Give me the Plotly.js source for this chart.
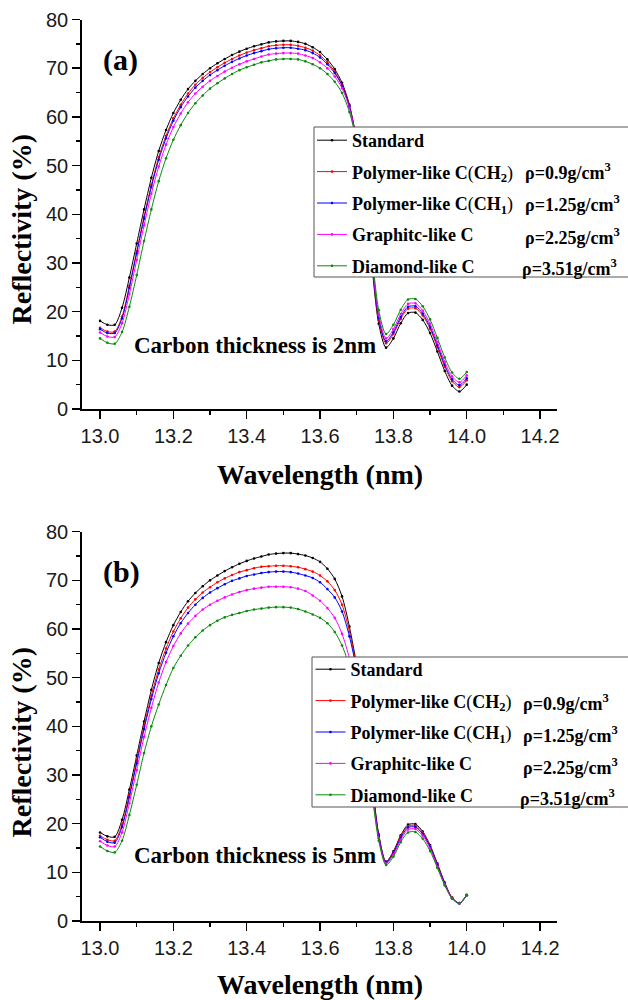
<!DOCTYPE html>
<html><head><meta charset="utf-8">
<script src="https://cdn.plot.ly/plotly-3.0.1.min.js"></script>
<style>html,body{margin:0;padding:0;background:#fff}</style>
</head><body><div id="chart" style="width:628px;height:1000px"></div>
<script>
// ---- data ----
const wavelength = [13.00,13.02,13.04,13.06,13.08,13.10,13.12,13.14,13.16,13.18,13.20,13.22,13.24,13.26,13.28,13.30,13.32,13.34,13.36,13.38,13.40,13.42,13.44,13.46,13.48,13.50,13.52,13.54,13.56,13.58,13.60,13.62,13.64,13.66,13.68,13.70,13.72,13.74,13.76,13.78,13.80,13.82,13.84,13.86,13.88,13.90,13.92,13.94,13.96,13.98,14.00];

// panel (a): carbon thickness 2 nm
const standardA = [18.1,17.3,17.3,20.8,27.0,34.0,41.0,47.5,53.0,57.3,60.8,63.5,65.7,67.4,68.8,70.0,71.0,71.9,72.7,73.4,74.0,74.5,74.9,75.3,75.5,75.6,75.6,75.4,75.0,74.3,73.3,71.8,69.8,67.0,62.5,55.0,44.5,30.5,17.5,12.6,14.5,17.6,19.7,19.8,18.3,15.6,11.8,7.8,4.8,3.6,5.0];
const ch2A = [16.7,15.9,15.9,19.0,25.3,32.4,39.5,46.0,51.7,56.1,59.7,62.5,64.8,66.6,68.0,69.2,70.2,71.1,71.9,72.6,73.2,73.7,74.1,74.5,74.7,74.8,74.8,74.6,74.2,73.6,72.6,71.2,69.3,66.6,62.3,55.0,44.8,31.1,18.3,13.5,15.4,18.5,20.6,20.7,19.2,16.5,12.7,8.7,5.7,4.5,5.9];
const ch1A = [16.4,15.6,15.6,18.6,24.9,32.0,39.1,45.6,51.2,55.6,59.2,62.0,64.2,66.0,67.4,68.6,69.6,70.5,71.3,72.0,72.6,73.1,73.5,73.9,74.1,74.2,74.2,74.0,73.7,73.1,72.2,70.8,69.0,66.4,62.1,55.0,45.0,31.5,18.7,13.9,15.8,18.9,21.0,21.1,19.6,16.9,13.1,9.1,6.1,4.9,6.3];
const graphiteA = [15.7,14.9,14.8,17.6,23.6,30.6,37.7,44.2,49.8,54.3,57.9,60.7,63.0,64.8,66.2,67.4,68.4,69.3,70.1,70.8,71.4,71.9,72.4,72.8,73.0,73.1,73.1,73.0,72.6,72.1,71.2,70.0,68.3,65.9,61.8,55.0,45.3,32.1,19.3,14.5,16.4,19.5,21.6,21.7,20.2,17.5,13.7,9.7,6.7,5.5,6.9];
const diamondA = [14.5,13.6,13.4,15.8,21.0,27.5,34.5,41.0,46.8,51.5,55.3,58.3,60.8,62.8,64.4,65.8,66.9,67.9,68.8,69.6,70.2,70.7,71.2,71.5,71.8,71.9,71.9,71.8,71.4,70.8,70.0,68.8,67.2,64.9,61.0,54.8,45.6,33.0,20.3,15.4,17.3,20.4,22.5,22.6,21.1,18.4,14.6,10.6,7.5,6.2,7.6];

// panel (b): carbon thickness 5 nm
const standardB = [18.2,17.4,17.3,20.8,27.0,34.0,41.0,47.5,53.0,57.3,60.8,63.5,65.7,67.4,68.8,70.0,71.0,71.9,72.7,73.4,74.0,74.5,74.9,75.3,75.5,75.6,75.6,75.4,75.1,74.6,73.8,72.4,70.3,66.7,60.5,52.5,42.5,30.0,17.8,12.2,14.3,17.6,19.8,19.9,18.4,15.6,11.8,7.9,4.8,3.7,5.4];
const ch2B = [17.5,16.7,16.5,19.8,26.0,33.0,40.0,46.3,51.7,56.0,59.5,62.2,64.4,66.1,67.5,68.6,69.6,70.4,71.1,71.7,72.1,72.5,72.8,72.9,73.0,73.0,72.9,72.7,72.3,71.8,71.0,69.8,68.0,65.0,59.5,52.0,42.0,29.5,17.6,12.1,14.1,17.4,19.5,19.6,18.2,15.4,11.6,7.8,4.8,3.7,5.3];
const ch1B = [17.2,16.3,16.1,19.3,25.5,32.4,39.4,45.6,50.9,55.1,58.5,61.2,63.3,65.0,66.4,67.5,68.4,69.2,69.9,70.4,70.9,71.2,71.5,71.7,71.8,71.8,71.7,71.4,71.0,70.5,69.6,68.2,66.5,63.6,58.5,51.5,41.5,29.0,17.5,12.0,13.9,17.1,19.2,19.3,17.9,15.2,11.5,7.7,4.7,3.6,5.3];
const graphiteB = [16.4,15.5,15.3,18.2,24.2,31.0,37.8,43.8,49.0,53.2,56.5,59.1,61.1,62.7,64.0,65.0,65.8,66.5,67.1,67.6,68.0,68.3,68.5,68.7,68.7,68.7,68.6,68.3,67.8,66.9,65.8,64.3,62.3,59.0,54.0,47.5,39.5,28.0,17.0,11.8,13.6,16.7,18.8,18.9,17.5,14.9,11.2,7.5,4.7,3.6,5.3];
const diamondB = [15.3,14.4,14.1,16.5,21.8,28.0,34.5,40.0,44.5,48.5,52.0,54.5,56.6,58.3,59.7,60.8,61.7,62.4,62.9,63.3,63.7,64.0,64.2,64.4,64.5,64.5,64.4,64.1,63.6,63.0,62.3,61.2,59.4,56.6,52.3,46.0,38.0,27.0,16.5,11.5,13.2,16.2,18.2,18.3,16.9,14.4,10.9,7.3,4.6,3.6,5.3];

const seriesNames = [
  'Standard',
  'Polymer-like C<span style="font-weight:normal">(</span>CH<sub>2</sub><span style="font-weight:normal">)</span>',
  'Polymer-like C<span style="font-weight:normal">(</span>CH<sub>1</sub><span style="font-weight:normal">)</span>',
  'Graphitc-like C',
  'Diamond-like C'
];
const densityLabels = ['', 'ρ=0.9g/cm<sup>3</sup>', 'ρ=1.25g/cm<sup>3</sup>', 'ρ=2.25g/cm<sup>3</sup>', 'ρ=3.51g/cm<sup>3</sup>'];
const panelLabels = ['(a)', '(b)'];
const thicknessLabels = ['Carbon thickness is 2nm', 'Carbon thickness is 5nm'];
const xTitle = 'Wavelength (nm)';
const yTitle = 'Reflectivity (%)';

// ---- styling ----
const colors = ['#000000', '#ff0000', '#0000ff', '#ff00ff', '#0a8a0a'];
const panels = [
  {x:'x', y:'y', legend:'legend', data:[standardA, ch2A, ch1A, graphiteA, diamondA]},
  {x:'x2', y:'y2', legend:'legend2', data:[standardB, ch2B, ch1B, graphiteB, diamondB]}
];
const traces = [];
panels.forEach((p, pi) => {
  p.data.forEach((vals, i) => {
    traces.push({
      type:'scatter', mode:'lines+markers', x: wavelength, y: vals,
      xaxis: p.x, yaxis: p.y, legend: p.legend, legendgroup: 'g'+pi+'_'+i,
      name: seriesNames[i],
      line:{color: colors[i], width: 1, shape:'spline', smoothing: 0.8},
      marker:{color: colors[i], size: 2.6},
      cliponaxis: true
    });
  });
});

const W = 628, H = 1000;
const px = v => v / W, py = v => 1 - v / H;
const xDom = [px(81.7), px(557.3)];
const xRange = [12.95, 14.247];
const doms = [[py(409), py(19.5)], [py(921), py(531.7)]];
const tickFont = {family:'Liberation Sans, Arial, sans-serif', size:20, color:'#1a1a1a'};
const serif = 'Liberation Serif, Times New Roman, serif';

function xAx(dom, anchor) {
  return {domain: xDom, range: xRange, anchor: anchor, showgrid:false, zeroline:false,
    showline:true, linecolor:'#000', linewidth:1.5, ticks:'outside', ticklen:8, tickwidth:1.5, tickcolor:'#000',
    tick0:13.0, dtick:0.2, tickformat:'.1f', tickfont: tickFont,
    minor:{ticks:'outside', ticklen:4, tickwidth:1.5, tickcolor:'#000', dtick:0.1, tick0:13.0}};
}
function yAx(dom, anchor) {
  return {domain: dom, range:[0,80], anchor: anchor, showgrid:false, zeroline:false,
    showline:true, linecolor:'#000', linewidth:1.5, ticks:'outside', ticklen:8, tickwidth:1.5, tickcolor:'#000',
    dtick:10, tick0:0, tickfont: tickFont,
    minor:{ticks:'outside', ticklen:4, tickwidth:1.5, tickcolor:'#000', dtick:5}};
}
function xTop(over, anchor) {
  return {overlaying: over, anchor: anchor, side:'top', range: xRange, showgrid:false, zeroline:false,
    showline:true, linecolor:'#000', linewidth:1.5, ticks:'inside', ticklen:6, tickwidth:1.5, tickcolor:'#000',
    tick0:13.0, dtick:0.1, showticklabels:false};
}
function yRight(over, anchor) {
  return {overlaying: over, anchor: anchor, side:'right', range:[0,80], showgrid:false, zeroline:false,
    showline:true, linecolor:'#000', linewidth:1.5, ticks:'inside', ticklen:7, tickwidth:1.5, tickcolor:'#000',
    tick0:0, dtick:10, showticklabels:false,
    minor:{ticks:'inside', ticklen:4, tickwidth:1.5, tickcolor:'#000', dtick:5}};
}

const legendFont = {family: serif, size:18, color:'#000', weight:'bold'};
const legendBoxes = [{x0:314, x1:640, y0:127, y1:277, lx:312, ly:122}, {x0:312, x1:640, y0:657, y1:807, lx:310.5, ly:651}];
const rhoRows = [[172, 204, 236, 267], [702, 734, 766, 797]];
const rhoX = [[523, 523, 523, 520], [521, 521, 521, 518]];

const shapes = legendBoxes.map(b => ({type:'rect', xref:'paper', yref:'paper', layer:'above',
  x0:px(b.x0), x1:px(b.x1), y0:py(b.y1), y1:py(b.y0), fillcolor:'#fff', line:{color:'#555', width:1}}));

const annotations = [];
const labelPos = [[120, 60], [121, 572]];
const thickPos = [[132, 345], [132, 855]];
const xTitlePos = [[320, 474], [320, 984]];
const yTitlePos = [[21, 229.5], [21, 742.5]];
for (let k = 0; k < 2; k++) {
  annotations.push({xref:'paper', yref:'paper', x:px(labelPos[k][0]), y:py(labelPos[k][1]), text:'<b>'+panelLabels[k]+'</b>',
    showarrow:false, xanchor:'center', yanchor:'middle', font:{family:serif, size:30, color:'#000'}});
  annotations.push({xref:'paper', yref:'paper', x:px(thickPos[k][0]), y:py(thickPos[k][1]), text:'<b>'+thicknessLabels[k]+'</b>',
    showarrow:false, xanchor:'left', yanchor:'middle', font:{family:serif, size:23, color:'#000'}});
  annotations.push({xref:'paper', yref:'paper', x:px(xTitlePos[k][0]), y:py(xTitlePos[k][1]), text:'<b>'+xTitle+'</b>',
    showarrow:false, xanchor:'center', yanchor:'middle', font:{family:serif, size:28, color:'#000'}});
  annotations.push({xref:'paper', yref:'paper', x:px(yTitlePos[k][0]), y:py(yTitlePos[k][1]), text:'<b>'+yTitle+'</b>', textangle:-90,
    showarrow:false, xanchor:'center', yanchor:'middle', font:{family:serif, size:28, color:'#000'}});
  for (let r = 1; r < densityLabels.length; r++) {
    annotations.push({xref:'paper', yref:'paper', x:px(rhoX[k][r-1]), y:py(rhoRows[k][r-1]), text:'<b>'+densityLabels[r]+'</b>',
      showarrow:false, xanchor:'left', yanchor:'middle', font:{family:serif, size:18, color:'#000'}});
  }
}

const layout = {
  width: W, height: H, paper_bgcolor:'#fff', plot_bgcolor:'rgba(0,0,0,0)',
  margin:{l:0, r:0, t:0, b:0, autoexpand:false},
  showlegend: true,
  xaxis: xAx(doms[0], 'y'), yaxis: yAx(doms[0], 'x'),
  xaxis2: xAx(doms[1], 'y2'), yaxis2: yAx(doms[1], 'x2'),
  xaxis3: xTop('x', 'y'), yaxis3: yRight('y', 'x'),
  xaxis4: xTop('x2', 'y2'), yaxis4: yRight('y2', 'x2'),
  legend: {x:px(legendBoxes[0].lx), y:py(legendBoxes[0].ly), xanchor:'left', yanchor:'top', bgcolor:'rgba(0,0,0,0)', borderwidth:0,
    font: legendFont, tracegroupgap: 5, itemwidth: 30},
  legend2: {x:px(legendBoxes[1].lx), y:py(legendBoxes[1].ly), xanchor:'left', yanchor:'top', bgcolor:'rgba(0,0,0,0)', borderwidth:0,
    font: legendFont, tracegroupgap: 5, itemwidth: 30},
  shapes: shapes,
  annotations: annotations
};
Plotly.newPlot('chart', traces, layout, {staticPlot:true, displayModeBar:false});
</script></body></html>
